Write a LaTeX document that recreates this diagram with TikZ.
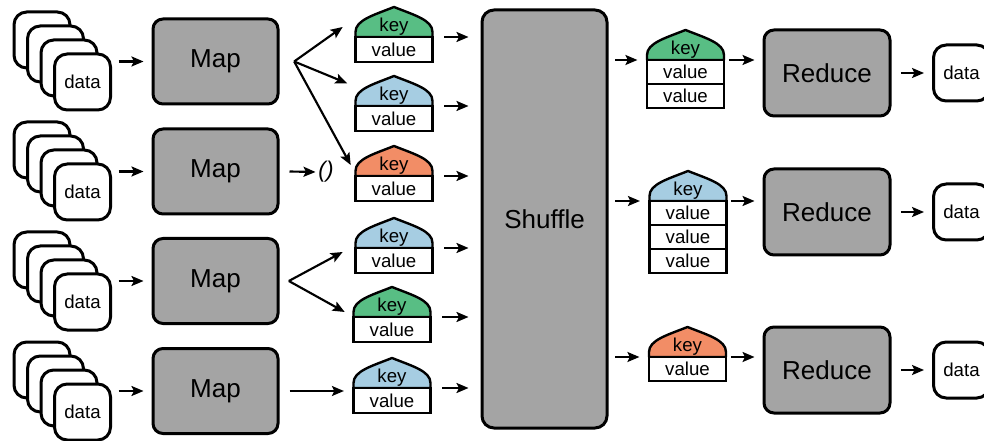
\documentclass[tikz,border=0pt]{standalone}
\usepackage{fontspec}
\setmainfont{Liberation Sans}
\usetikzlibrary{arrows.meta,calc}

\definecolor{boxgray}{RGB}{164,164,164}
\definecolor{keygreen}{RGB}{88,190,132}
\definecolor{keyblue}{RGB}{166,205,226}
\definecolor{keyorange}{RGB}{242,141,102}

\tikzset{
  proc/.style={draw, line width=2.25pt, fill=boxgray, rounded corners=7.5pt,
    inner sep=0pt, font=\fontsize{19.5}{21}\selectfont},
  card/.style={draw, line width=2.25pt, fill=white, rounded corners=9.5pt,
    minimum width=42pt, minimum height=42pt, inner sep=0pt,
    font=\fontsize{14}{15}\selectfont},
  keycell/.style={inner sep=0pt, minimum width=57.75pt, minimum height=15pt,
    anchor=south, font=\fontsize{14}{15}\selectfont},
  valcell/.style={draw, line width=1.8pt, fill=white, inner sep=0pt,
    minimum width=57.75pt, minimum height=#1, font=\fontsize{14}{15}\selectfont},
  valcell/.default=18.75pt,
  arr/.style={line width=1.6pt, -{Stealth[length=9pt,width=7.5pt,inset=1.8pt]}},
}

% key cap: name, centre x, base y, fill colour
\newcommand\kvcap[4]{%
  \path[fill=#4, draw, line width=1.8pt, line join=round]
    ({#2-38.5},#3) -- ({#2-38.5},{#3-5})
    .. controls ({#2-38.5},{#3-17}) and ({#2-20},{#3-22}) .. (#2,{#3-30})
    .. controls ({#2+20},{#3-22}) and ({#2+38.5},{#3-17}) .. ({#2+38.5},{#3-5})
    -- ({#2+38.5},#3) -- cycle;
  \node[keycell] (#1) at (#2,#3) {key};
}

% stack of four data cards: name, front centre x, front centre y
\newcommand\datastack[3]{%
  \foreach \i in {3,2,1} {
    \node[card] (#1b\i) at ({#2-13.5*\i},{#3-14*\i}) {};
  }
  \node[card] (#1) at (#2,#3) {data};
}

\begin{document}
\begin{tikzpicture}[x=0.75pt,y=-0.75pt]
\clip (0,0) rectangle (984,441);

% input data
\datastack{d1}{82.5}{82}
\datastack{d2}{82.5}{192}
\datastack{d3}{82.5}{302}
\datastack{d4}{82.5}{412}

% map tasks
\foreach \n/\y in {1/61.5,2/171.5,3/281,4/391} {
  \node[proc, minimum width=93.75pt, minimum height=63.75pt] (m\n) at (215.5,\y) {Map};
  \draw[arr] ([xshift=5pt]d\n.east |- m\n.west) -- ([xshift=-6pt]m\n.west);
}

% intermediate key/value pairs
\kvcap{k1}{394}{37}{keygreen}   \node[valcell] (k1v) at (394,49.5) {value};
\kvcap{k2}{394}{106}{keyblue}   \node[valcell] (k2v) at (394,118.5) {value};
\kvcap{k3}{394}{176}{keyorange} \node[valcell] (k3v) at (394,188.5) {value};
\kvcap{k4}{394}{248}{keyblue}   \node[valcell] (k4v) at (394,260.5) {value};
\kvcap{k5}{392}{317}{keygreen}  \node[valcell] (k5v) at (392,329.5) {value};
\kvcap{k6}{392}{388}{keyblue}   \node[valcell] (k6v) at (392,400.5) {value};

% map outputs
\coordinate (f1) at ([xshift=11pt]m1.east);
\draw[arr] (f1) -- ([xshift=-9.4pt,yshift=7.5pt]k1.south west);
\draw[arr] (f1) -- ([xshift=-6pt,yshift=17pt]k2.south west);
\draw[arr] (f1) -- ([xshift=-3.4pt,yshift=8.25pt]k3.south west);

\node[inner sep=2pt, font=\fontsize{17}{18}\selectfont\itshape] (nil) at (326,172) {()};
\draw[arr] ([xshift=7.5pt]m2.east) -- (nil.west);

\coordinate (f3) at ([xshift=7pt]m3.east);
\draw[arr] (f3) -- ([xshift=-9.4pt,yshift=-3pt]k4.south west);
\draw[arr] (f3) -- ([xshift=-6.4pt,yshift=3.75pt]k5.south west);

\draw[arr] ([xshift=7.5pt]m4.east) -- ([xshift=-7pt,yshift=-2.25pt]k6.south west);

% shuffle
\node[proc, rounded corners=9pt, minimum width=93.75pt, minimum height=313.5pt]
  (sh) at (544.5,219) {Shuffle};
\foreach \n in {1,...,6} {
  \draw[arr] ([xshift=8.5pt]k\n.south east) -- ([xshift=-9pt]sh.west |- k\n.south east);
}

% grouped key/values
\kvcap{r1}{685.5}{60}{keygreen}
\node[valcell=18pt] (r1v1) at (685.5,72) {value};
\node[valcell=18pt] (r1v2) at (685.5,96) {value};
\kvcap{r2}{688}{201}{keyblue}
\node[valcell=18pt] (r2v1) at (688,213) {value};
\node[valcell=18pt] (r2v2) at (688,237) {value};
\node[valcell=18pt] (r2v3) at (688,261) {value};
\kvcap{r3}{687.5}{357}{keyorange}
\node[valcell=18pt] (r3v1) at (687.5,369) {value};

% reduce tasks and outputs
\foreach \n/\y in {1/73,2/212,3/370} {
  \node[proc, minimum width=94.5pt, minimum height=64.5pt] (red\n) at (827,\y) {Reduce};
  \node[card] (o\n) at (961.5,\y) {data};
  \draw[arr] ([xshift=5pt]sh.east |- r\n.south west) -- ([xshift=-7pt]r\n.south west);
  \draw[arr] ([xshift=3.5pt]r\n.south east) -- ([xshift=-6pt]red\n.west |- r\n.south east);
  \draw[arr] ([xshift=7pt]red\n.east) -- ([xshift=-6pt]o\n.west);
}
\end{tikzpicture}
\end{document}
